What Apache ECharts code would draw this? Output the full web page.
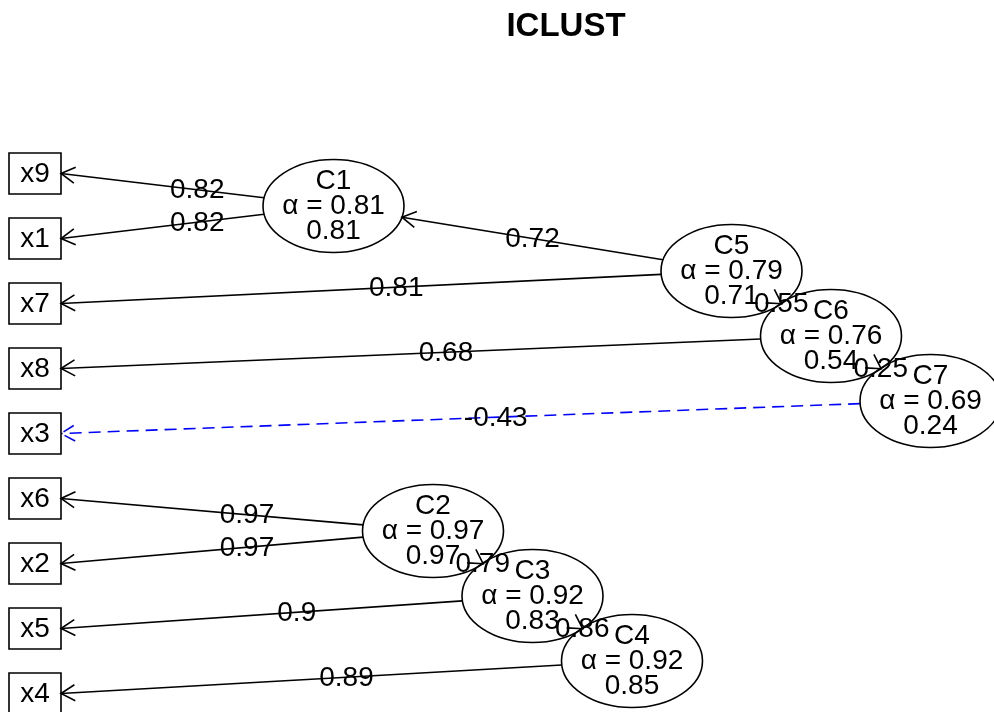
<!DOCTYPE html>
<html><head><meta charset="utf-8">
<script src="https://cdn.jsdelivr.net/npm/echarts@6/dist/echarts.min.js"></script>
<style>html,body{margin:0;padding:0;background:#fff}#main{width:994px;height:712px}</style>
</head><body><div id="main"></div>
<script>
// ---------- data ----------
const titleText = 'ICLUST';
const varNames = ['x9','x1','x7','x8','x3','x6','x2','x5','x4'];
const varCols  = [0,0,0,0,0,0,0,0,0];
const varRows  = [1,2,3,4,5,6,7,8,9];
const clusterNames = ['C1','C2','C3','C4','C5','C6','C7'];
const clusterAlpha = [0.81,0.97,0.92,0.92,0.79,0.76,0.69];
const clusterBeta  = [0.81,0.97,0.83,0.85,0.71,0.54,0.24];
const clusterCols  = [3,4,5,6,7,8,9];
const clusterRows  = [1.5,6.5,7.5,8.5,2.5,3.5,4.5];
const edgeFrom    = ['C1','C1','C5','C5','C6','C6','C7','C7','C2','C2','C3','C3','C4','C4'];
const edgeTo      = ['x9','x1','C1','x7','C5','x8','C6','x3','x6','x2','C2','x5','C3','x4'];
const edgeLoading = [0.82,0.82,0.72,0.81,0.55,0.68,0.25,-0.43,0.97,0.97,0.79,0.9,0.86,0.89];

// ---------- style ----------
const FONT = '"Liberation Sans", Arial, Helvetica, sans-serif';
const TXT = '28px ' + FONT;
const BOX_W = 52, BOX_H = 41, ELL_RX = 70.5, ELL_RY = 46.5;
const LW = 1.6, HEAD = 16, HEAD_ANG = Math.PI / 6;

function layoutOf(name) {
  let i = varNames.indexOf(name);
  if (i >= 0) return { kind: 'box', col: varCols[i], row: varRows[i] };
  i = clusterNames.indexOf(name);
  return { kind: 'ell', col: clusterCols[i], row: clusterRows[i] };
}
function ellPoint(c, p) {
  const dx = p[0] - c[0], dy = p[1] - c[1];
  const s = 1 / Math.sqrt((dx / ELL_RX) ** 2 + (dy / ELL_RY) ** 2);
  return [c[0] + s * dx, c[1] + s * dy];
}

function renderEdge(params, api) {
  const i = api.value(4);
  const P = layoutOf(edgeFrom[i]), C = layoutOf(edgeTo[i]);
  const pc = api.coord([P.col, P.row]);
  const cc = api.coord([C.col, C.row]);
  let start, end, lab;
  if (C.kind === 'box') {
    end = [cc[0] + BOX_W / 2, cc[1]];
    start = ellPoint(pc, end);
    lab = [(pc[0] + end[0]) / 2, (pc[1] + end[1]) / 2];
  } else {
    start = ellPoint(pc, cc);
    end = ellPoint(cc, pc);
    lab = [(pc[0] + cc[0]) / 2, (pc[1] + cc[1]) / 2];
  }
  let dx = end[0] - start[0], dy = end[1] - start[1];
  const len = Math.sqrt(dx * dx + dy * dy) || 1;
  dx /= len; dy /= len;
  const back = Math.atan2(-dy, -dx);
  const b1 = [end[0] + HEAD * Math.cos(back + HEAD_ANG), end[1] + HEAD * Math.sin(back + HEAD_ANG)];
  const b2 = [end[0] + HEAD * Math.cos(back - HEAD_ANG), end[1] + HEAD * Math.sin(back - HEAD_ANG)];
  const neg = edgeLoading[i] < 0;
  const col = neg ? '#0000ff' : '#000000';
  const dash = neg ? [12, 7] : null;
  return {
    type: 'group',
    children: [
      { type: 'line', shape: { x1: start[0], y1: start[1], x2: end[0], y2: end[1] },
        style: { stroke: col, lineWidth: LW, lineDash: dash } },
      { type: 'polyline', shape: { points: [b1, end, b2] },
        style: { stroke: col, lineWidth: LW, fill: 'none', lineDash: dash } },
      { type: 'text', z2: 10, style: { text: String(edgeLoading[i]), x: lab[0], y: lab[1] + 1,
        font: TXT, fill: '#000', align: 'center', verticalAlign: 'middle' } }
    ]
  };
}

function renderCluster(params, api) {
  const i = api.value(2);
  const c = api.coord([api.value(0), api.value(1)]);
  const t = (s, dy) => ({ type: 'text', style: { text: s, x: c[0], y: c[1] + dy,
    font: TXT, fill: '#000', align: 'center', verticalAlign: 'middle' } });
  return {
    type: 'group',
    children: [
      { type: 'ellipse', shape: { cx: c[0], cy: c[1], rx: ELL_RX, ry: ELL_RY },
        style: { fill: 'none', stroke: '#000', lineWidth: LW } },
      t(clusterNames[i], -24.5),
      t('\u03b1 = ' + clusterAlpha[i], 0.5),
      t(String(clusterBeta[i]), 25.5)
    ]
  };
}

function renderVar(params, api) {
  const i = api.value(2);
  const c = api.coord([api.value(0), api.value(1)]);
  return {
    type: 'group',
    children: [
      { type: 'rect', shape: { x: c[0] - BOX_W / 2, y: c[1] - BOX_H / 2, width: BOX_W, height: BOX_H },
        style: { fill: 'none', stroke: '#000', lineWidth: LW } },
      { type: 'text', style: { text: varNames[i], x: c[0], y: c[1] + 1,
        font: TXT, fill: '#000', align: 'center', verticalAlign: 'middle' } }
    ]
  };
}

const edgeData = edgeFrom.map((f, i) => {
  const P = layoutOf(f), C = layoutOf(edgeTo[i]);
  return [P.col, P.row, C.col, C.row, i];
});
const clusterData = clusterNames.map((n, i) => [clusterCols[i], clusterRows[i], i]);
const varData = varNames.map((n, i) => [varCols[i], varRows[i], i]);

const chart = echarts.init(document.getElementById('main'), null, { renderer: 'canvas' });
chart.setOption({
  animation: false,
  backgroundColor: '#ffffff',
  graphic: [{ type: 'text', x: 566, y: 27, style: { text: titleText, font: 'bold 33px ' + FONT,
    fill: '#000', align: 'center', verticalAlign: 'middle' } }],
  grid: { left: 35, top: 173.5, width: 895.5, height: 520, containLabel: false },
  xAxis: { type: 'value', min: 0, max: 9, show: false },
  yAxis: { type: 'value', min: 1, max: 9, inverse: true, show: false },
  series: [
    { type: 'custom', renderItem: renderEdge, data: edgeData, encode: { x: [0, 2], y: [1, 3] }, clip: false, silent: true },
    { type: 'custom', renderItem: renderCluster, data: clusterData, encode: { x: 0, y: 1 }, clip: false, silent: true },
    { type: 'custom', renderItem: renderVar, data: varData, encode: { x: 0, y: 1 }, clip: false, silent: true }
  ]
});
</script></body></html>
